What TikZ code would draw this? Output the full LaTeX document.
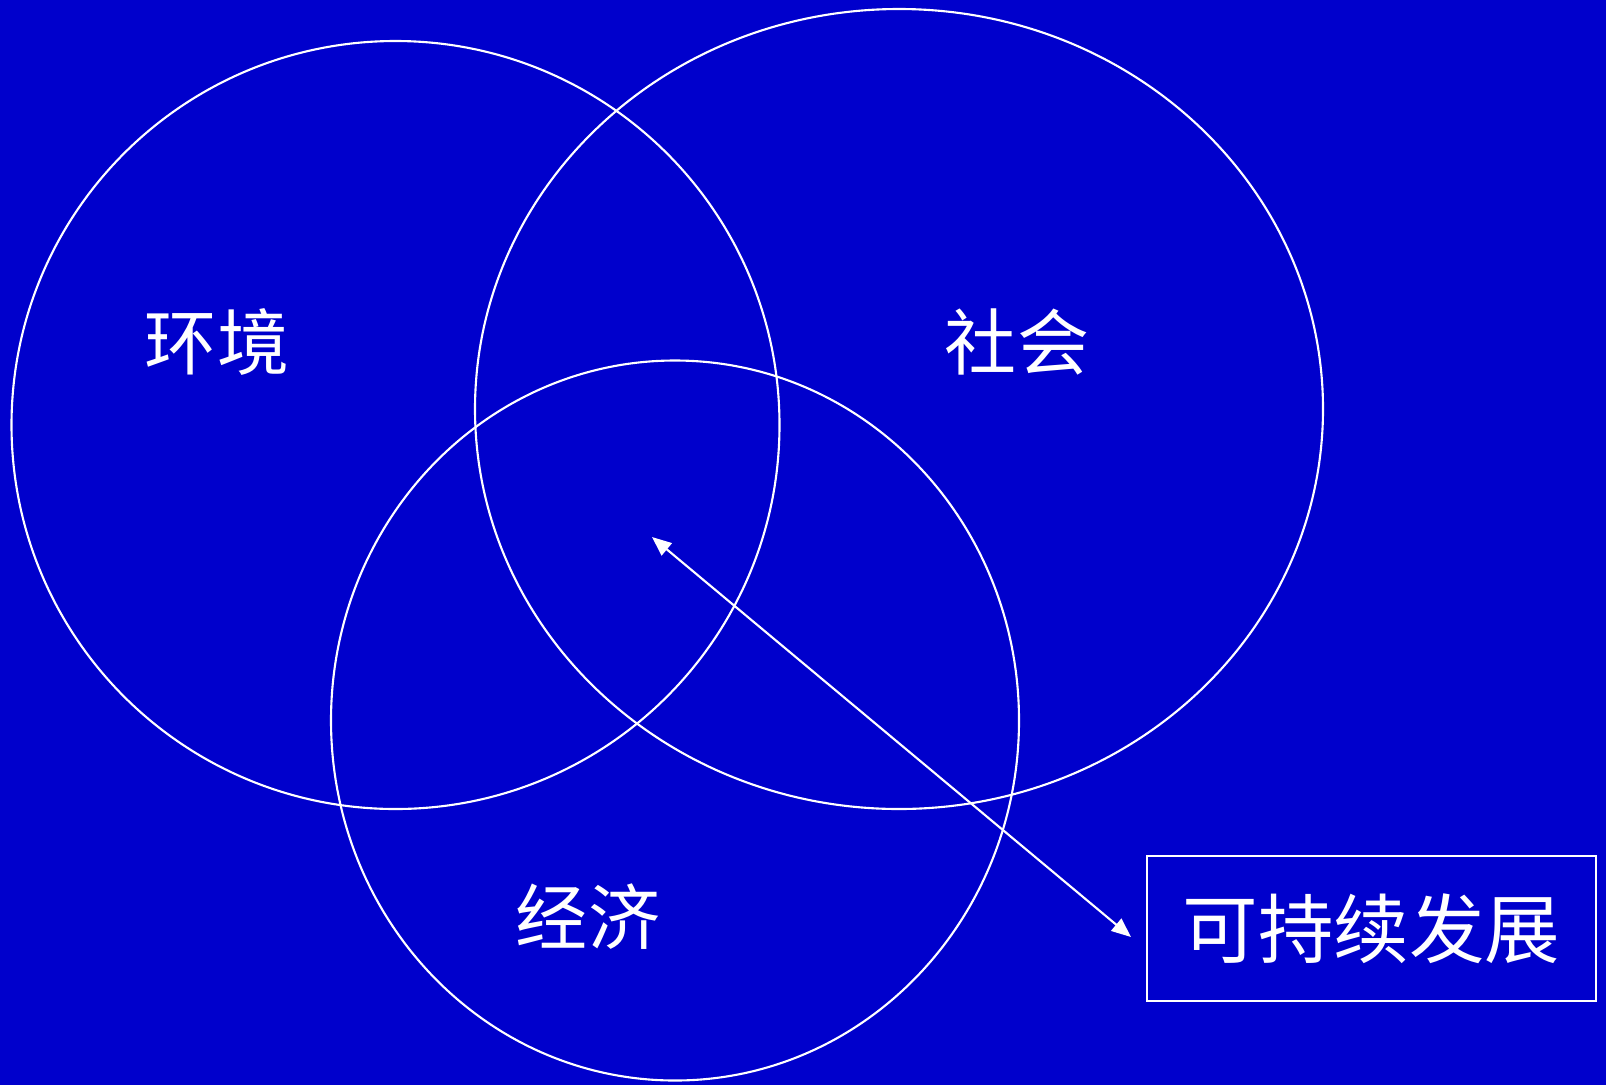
\documentclass[tikz,border=0pt]{standalone}
\usepackage{fontspec}
\newfontfamily\cjkfont{Noto Sans CJK SC}
\definecolor{slideblue}{RGB}{0, 0, 204}
\usetikzlibrary{arrows.meta, positioning}

\begin{document}
\begin{tikzpicture}[x=0.2mm, y=-0.2mm,
    ring/.style={draw=white, line width=1.2pt},
    tag/.style={text=white, font=\cjkfont\fontsize{41}{41}\selectfont, inner sep=0pt}]
  % Background
  \fill[slideblue] (0,0) rectangle (1606,1085);
  \useasboundingbox (0,0) rectangle (1606,1085);

  % Three circles
  \draw[ring] (395.5,425) ellipse [x radius=384, y radius=384];   % environment
  \draw[ring] (899,409) ellipse [x radius=424, y radius=400];     % society
  \draw[ring] (675,720.5) ellipse [x radius=344, y radius=360];   % economy

  % Labels
  \node[tag] (env) at (217,342) {环境};
  \node[tag] (soc) at (1017,342) {社会};
  \node[tag] (eco) at (588,917) {经济};

  % Result box
  \node[draw=white, line width=1.2pt, minimum width=449*0.2mm, minimum height=145*0.2mm,
        text=white, font=\cjkfont\fontsize{43}{43}\selectfont] (sd) at (1371.5,928.5) {可持续发展};

  % Double arrow
  \coordinate (core) at (652,537);
  \coordinate (tip) at (1131,937);
  \draw[white, line width=1.2pt, {Triangle[length=11pt, width=9pt]}-{Triangle[length=11pt, width=9pt]}] (core) -- (tip);
\end{tikzpicture}
\end{document}
